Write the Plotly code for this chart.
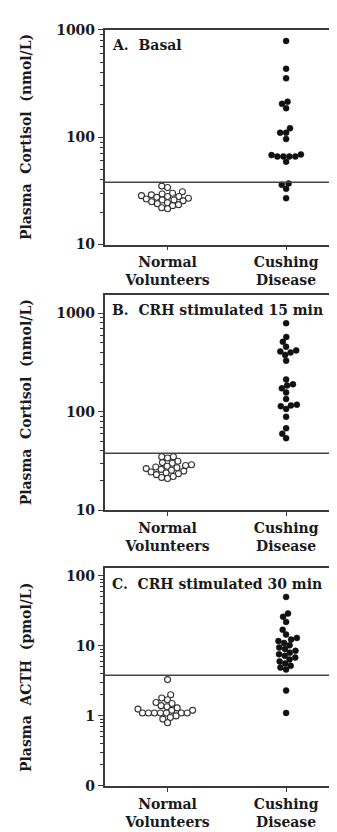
import numpy as np
import plotly.graph_objects as go

W, H = 337, 832

# ---------------- data ----------------
categories = ["Normal<br>Volunteers", "Cushing<br>Disease"]

basal_normal = [35, 34, 31, 30, 29.5, 29, 28.5, 28, 28, 27.5, 27, 26.5, 26,
                26, 25.5, 25, 24.5, 24, 23.5, 23, 22, 21.5]
basal_cushing = [785, 433, 353, 214, 204, 186, 121, 110, 110, 96, 69, 68,
                 66, 66, 66, 66, 59, 37, 36, 33, 27]

crh15_normal = [35, 35, 34, 31.5, 30.5, 30, 29, 28.5, 28, 27.5, 27, 26.5,
                26, 25.5, 25, 24.5, 24, 23.5, 23, 22, 21.5, 21]
crh15_cushing = [792, 574, 513, 457, 420, 410, 400, 378, 330, 213, 190, 185,
                 173, 157, 135, 118, 116, 114, 107, 89, 68, 60, 54]

crh30_normal = [3.3, 2.0, 1.8, 1.7, 1.55, 1.5, 1.4, 1.35, 1.3, 1.25, 1.2,
                1.2, 1.1, 1.1, 1.1, 1.1, 1.1, 1.1, 1.1, 1.0, 0.95, 0.9, 0.8]
crh30_cushing = [50, 29, 26, 22, 17, 14.5, 13, 12.3, 11.7, 11, 10.2, 9.5,
                 9, 8.5, 8, 7.6, 7.2, 6.8, 6.4, 6, 5.6, 5.2, 4.9, 4.6, 2.3, 1.1]

thresholds = [38, 38, 3.8]
NB = "\u00a0"
panel_titles = [f"A.{NB}{NB}Basal",
                f"B.{NB}{NB}CRH stimulated 15 min",
                f"C.{NB}{NB}CRH stimulated 30 min"]
y_titles = [f"Plasma{NB}{NB}Cortisol{NB}{NB}(nmol/L)",
            f"Plasma{NB}{NB}Cortisol{NB}{NB}(nmol/L)",
            f"Plasma{NB}{NB}ACTH{NB}{NB}(pmol/L)"]
tick_alias = [{}, {}, {"0.1": "0"}]

panels = [(basal_normal, basal_cushing),
          (crh15_normal, crh15_cushing),
          (crh30_normal, crh30_cushing)]

# ---------------- layout geometry (pixels) ----------------
y_ranges = [(1, 3), (1, 3.19), (-1, 2.11)]
plot_px = [(14, 233), (284, 504), (563, 785)]   # top, bottom
x_left_px, x_right_px = 97, 336
x_range = (-0.53, 1.48)
px_per_unit = (x_right_px - x_left_px) / (x_range[1] - x_range[0])

FONT = "DejaVu Serif"
INK = "#1a1a1a"
FRAME = "#3a3a3a"
MS = 6


def swarm(vals, px_per_dec, d):
    ys = np.log10(np.asarray(vals, float)) * px_per_dec
    order = np.argsort(ys, kind="stable")
    placed = []
    xs = np.zeros(len(ys))
    for i in order:
        y = ys[i]
        near = [(xj, yj) for xj, yj in placed if abs(yj - y) < d]
        cands = [0.0]
        for xj, yj in near:
            w = np.sqrt(d * d - (yj - y) ** 2)
            cands += [xj - w, xj + w]
        cands.sort(key=lambda c: (round(abs(c), 6), c))
        for c in cands:
            if all((c - xj) ** 2 + (y - yj) ** 2 >= d * d - 1e-6 for xj, yj in near):
                xs[i] = c
                break
        placed.append((xs[i], y))
    return xs / px_per_unit


fig = go.Figure()
annotations = []
shapes = []

for k, (normal, cushing) in enumerate(panels):
    top, bot = plot_px[k]
    px_per_dec = (bot - top) / (y_ranges[k][1] - y_ranges[k][0])
    xa = "x" if k == 0 else f"x{k+1}"
    ya = "y" if k == 0 else f"y{k+1}"

    xn = 0 + swarm(normal, px_per_dec, 6.0)
    xc = 1 + swarm(cushing, px_per_dec, 6.0)

    fig.add_trace(go.Scatter(
        x=xn, y=normal, mode="markers", xaxis=xa, yaxis=ya, showlegend=False,
        marker=dict(size=MS, color="white", line=dict(color="#333", width=1.1))))
    fig.add_trace(go.Scatter(
        x=xc, y=cushing, mode="markers", xaxis=xa, yaxis=ya, showlegend=False,
        marker=dict(size=MS, color="#111", line=dict(color="#111", width=0.5))))

    shapes.append(dict(type="line", xref=f"{xa} domain", yref=ya,
                       x0=0, x1=1, y0=thresholds[k], y1=thresholds[k],
                       line=dict(color="#444", width=1.6)))

    dom_y = [1 - bot / H, 1 - top / H]
    axkey = "xaxis" if k == 0 else f"xaxis{k+1}"
    aykey = "yaxis" if k == 0 else f"yaxis{k+1}"
    fig.update_layout(**{
        axkey: dict(domain=[x_left_px / W, x_right_px / W], anchor=ya,
                    range=list(x_range), tickvals=[0, 1], ticktext=categories,
                    ticks="outside", ticklen=4, tickcolor=FRAME, tickwidth=1,
                    showline=True, mirror=True, linecolor=FRAME, linewidth=1.6,
                    showgrid=False, zeroline=False, fixedrange=True,
                    tickfont=dict(family=FONT, size=14, color=INK, weight="bold")),
        aykey: dict(domain=dom_y, anchor=xa, type="log",
                    range=list(y_ranges[k]), tickmode="linear", tick0=0, dtick=1,
                    labelalias=tick_alias[k], ticks="outside", ticklen=5,
                    tickcolor=FRAME, tickwidth=1.2,
                    minor=dict(ticks="outside", ticklen=3, tickcolor="#333",
                               tickwidth=1, showgrid=False),
                    showline=True, mirror=True, linecolor=FRAME, linewidth=1.6,
                    showgrid=False, zeroline=False, fixedrange=True,
                    tickfont=dict(family=FONT, size=14, color=INK, weight="bold")),
    })

    annotations.append(dict(
        text=panel_titles[k], xref="paper", yref="paper",
        x=(x_left_px + 5) / W, y=1 - (top + 16) / H,
        xanchor="left", yanchor="middle", showarrow=False,
        font=dict(family=FONT, size=14, color=INK, weight="bold")))
    annotations.append(dict(
        text=y_titles[k], xref="paper", yref="paper",
        x=18 / W, y=1 - ((top + bot) / 2) / H, textangle=-90,
        xanchor="center", yanchor="middle", showarrow=False,
        font=dict(family=FONT, size=14, color=INK, weight="bold")))

fig.update_layout(
    width=W, height=H, margin=dict(l=0, r=0, t=0, b=0),
    paper_bgcolor="white", plot_bgcolor="white",
    annotations=annotations, shapes=shapes, showlegend=False,
)

fig.write_html("out.html", config={"displayModeBar": False})
